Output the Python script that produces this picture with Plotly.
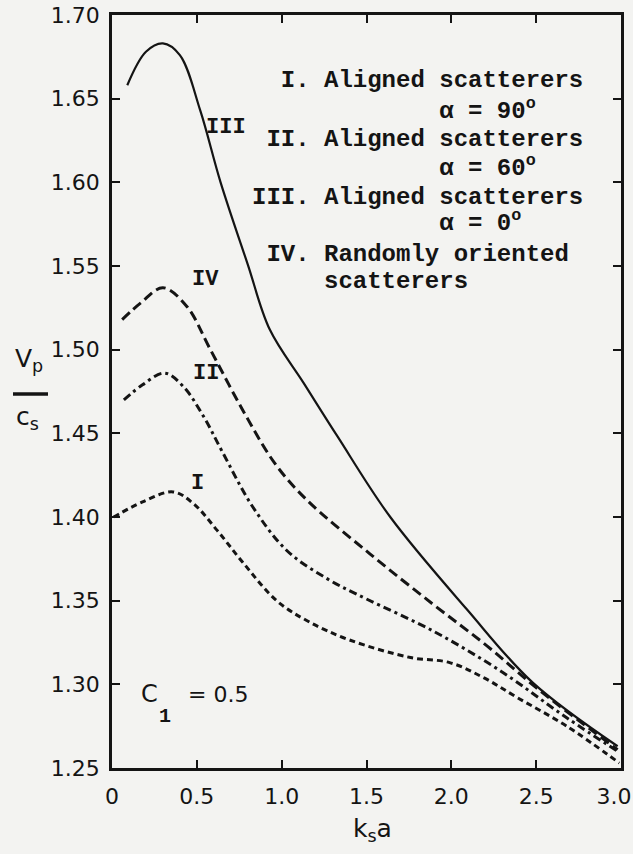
import plotly.graph_objects as go

# ---- data ----
x_tick_vals = [0, 0.5, 1.0, 1.5, 2.0, 2.5, 3.0]
x_tick_text = ["0", "0.5", "1.0", "1.5", "2.0", "2.5", "3.0\u00a0\u00a0"]
y_tick_vals = [1.25, 1.30, 1.35, 1.40, 1.45, 1.50, 1.55, 1.60, 1.65, 1.70]
y_tick_text = ["1.25", "1.30", "1.35", "1.40", "1.45", "1.50", "1.55", "1.60", "1.65", "1.70"]

# III: aligned scatterers, alpha = 0 deg (solid)
x_III = [0.09, 0.20, 0.30, 0.40, 0.52, 0.64, 0.80, 0.93, 1.13, 1.33, 1.64, 2.09, 2.48, 2.98]
y_III = [1.658, 1.678, 1.683, 1.676, 1.643, 1.600, 1.551, 1.512, 1.480, 1.448, 1.400, 1.345, 1.301, 1.263]

# IV: randomly oriented scatterers (long dash)
x_IV = [0.06, 0.17, 0.30, 0.44, 0.58, 0.77, 0.96, 1.15, 1.52, 1.89, 2.21, 2.50, 2.98]
y_IV = [1.518, 1.528, 1.537, 1.526, 1.500, 1.464, 1.432, 1.410, 1.378, 1.348, 1.323, 1.298, 1.261]

# II: aligned scatterers, alpha = 60 deg (dash-dot)
x_II = [0.07, 0.18, 0.31, 0.42, 0.54, 0.65, 0.83, 1.03, 1.27, 1.50, 1.89, 2.29, 2.68, 2.98]
y_II = [1.470, 1.479, 1.486, 1.478, 1.460, 1.439, 1.406, 1.380, 1.363, 1.351, 1.332, 1.308, 1.280, 1.260]

# I: aligned scatterers, alpha = 90 deg (short dash)
x_I = [0.01, 0.18, 0.36, 0.48, 0.62, 0.77, 0.97, 1.15, 1.40, 1.76, 1.99, 2.19, 2.39, 2.68, 2.99]
y_I = [1.400, 1.409, 1.415, 1.408, 1.392, 1.373, 1.350, 1.338, 1.3265, 1.316, 1.313, 1.304, 1.292, 1.275, 1.253]

legend_lines = [
    "\u00a0\u00a0I.\u00a0Aligned\u00a0scatterers",
    "\u00a0" * 13 + "α\u00a0=\u00a090<sup>o</sup>",
    "\u00a0II.\u00a0Aligned\u00a0scatterers",
    "\u00a0" * 13 + "α\u00a0=\u00a060<sup>o</sup>",
    "III.\u00a0Aligned\u00a0scatterers",
    "\u00a0" * 13 + "α\u00a0=\u00a00<sup>o</sup>",
    "\u00a0IV.\u00a0Randomly\u00a0oriented",
    "\u00a0" * 5 + "scatterers",
]
legend_rows_px = [80, 109, 140, 166, 197, 222, 254, 281]

INK = "#141414"
BG = "#f3f3f1"
MONO = "Liberation Mono"
SANS = "DejaVu Sans"

fig = go.Figure()
fig.add_trace(go.Scatter(x=x_III, y=y_III, mode="lines", line=dict(color=INK, width=2.2, shape="spline", smoothing=1.0)))
fig.add_trace(go.Scatter(x=x_IV, y=y_IV, mode="lines", line=dict(color=INK, width=3, dash="10px,5px", shape="spline", smoothing=1.0)))
fig.add_trace(go.Scatter(x=x_II, y=y_II, mode="lines", line=dict(color=INK, width=3, dash="8px,4px,3px,4px", shape="spline", smoothing=1.0)))
fig.add_trace(go.Scatter(x=x_I, y=y_I, mode="lines", line=dict(color=INK, width=3, dash="6px,4px", shape="spline", smoothing=1.0)))

L, R, T, B = 112, 12, 15, 86
W, H = 633, 854
pw, ph = W - L - R, H - T - B


def px2paper(px, py):
    return (px - L) / pw, (H - B - py) / ph


ann = []
for text, py in zip(legend_lines, legend_rows_px):
    xp, yp = px2paper(250, py)
    ann.append(dict(x=xp, y=yp, xref="paper", yref="paper", text="<b>" + text + "</b>",
                    showarrow=False, xanchor="left", yanchor="middle",
                    font=dict(family=MONO, size=24, color=INK)))

# curve labels
for text, (px, py) in [("III", (226, 128)), ("IV", (205, 279)), ("II", (206, 373)), ("I", (197, 483))]:
    xp, yp = px2paper(px, py)
    ann.append(dict(x=xp, y=yp, xref="paper", yref="paper", text="<b>" + text + "</b>",
                    showarrow=False, xanchor="center", yanchor="middle",
                    font=dict(family=MONO, size=22, color=INK)))

# C1 = 0.5
xp, yp = px2paper(149, 694)
ann.append(dict(x=xp, y=yp, xref="paper", yref="paper", text="C", showarrow=False,
                xanchor="center", yanchor="middle", font=dict(family=SANS, size=24, color=INK)))
xp, yp = px2paper(165, 716)
ann.append(dict(x=xp, y=yp, xref="paper", yref="paper", text="<b>1</b>", showarrow=False,
                xanchor="center", yanchor="middle", font=dict(family=MONO, size=20, color=INK)))
xp, yp = px2paper(186, 694)
ann.append(dict(x=xp, y=yp, xref="paper", yref="paper", text="= 0.5", showarrow=False,
                xanchor="left", yanchor="middle", font=dict(family=SANS, size=22, color=INK)))

# y-axis title Vp / cs
xp, yp = px2paper(29, 360)
ann.append(dict(x=xp, y=yp, xref="paper", yref="paper", text="V<sub>p</sub>", showarrow=False,
                xanchor="center", yanchor="middle", font=dict(family=SANS, size=25, color=INK)))
xp, yp = px2paper(27, 418)
ann.append(dict(x=xp, y=yp, xref="paper", yref="paper", text="c<sub>s</sub>", showarrow=False,
                xanchor="center", yanchor="middle", font=dict(family=SANS, size=25, color=INK)))
# x-axis title ks a
xp, yp = px2paper(372, 830)
ann.append(dict(x=xp, y=yp, xref="paper", yref="paper", text="k<sub>s</sub>a", showarrow=False,
                xanchor="center", yanchor="middle", font=dict(family=SANS, size=25, color=INK)))

x0, y0 = px2paper(13, 394)
x1, _ = px2paper(48, 394)
shapes = [dict(type="line", xref="paper", yref="paper", x0=x0, x1=x1, y0=y0, y1=y0,
               line=dict(color=INK, width=3.5))]

axis_common = dict(showgrid=False, zeroline=False, showline=True, linecolor=INK, linewidth=2.5,
                   mirror="ticks", ticks="inside", ticklen=8, tickwidth=2, tickcolor=INK,
                   automargin=False, ticklabeloverflow="allow",
                   tickfont=dict(family=SANS, size=22, color=INK))

fig.update_layout(
    width=W, height=H, autosize=False,
    margin=dict(l=L, r=R, t=T, b=B),
    paper_bgcolor=BG, plot_bgcolor=BG,
    showlegend=False,
    xaxis=dict(range=[0, 3.0], tickvals=x_tick_vals, ticktext=x_tick_text, ticklabelstandoff=7, **axis_common),
    yaxis=dict(range=[1.25, 1.70], tickvals=y_tick_vals, ticktext=y_tick_text, ticklabelstandoff=5, **axis_common),
    annotations=ann,
    shapes=shapes,
)

fig.write_html(
    "out.html",
    config={"displayModeBar": False},
    post_script="document.body.style.margin='0';document.body.style.background='" + BG + "';",
)
